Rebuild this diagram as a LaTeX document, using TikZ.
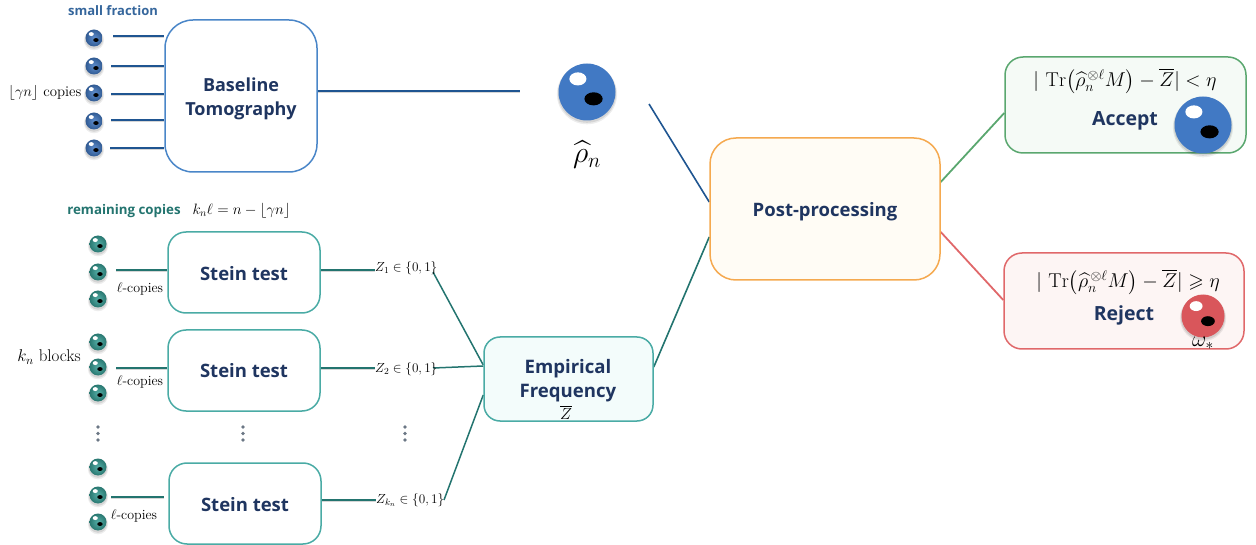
\documentclass[tikz,border=0pt]{standalone}
\usepackage{fix-cm}
\usepackage{amsmath,amssymb}
\usepackage{fontspec}
\newfontfamily\labelfont{Open Sans}
\usetikzlibrary{backgrounds}
\definecolor{navy}{HTML}{1F3560}
\definecolor{bluewire}{HTML}{1F5591}
\definecolor{bluebox}{HTML}{4A86C8}
\definecolor{ballblue}{HTML}{4179C4}
\definecolor{tealwire}{HTML}{23746F}
\definecolor{tealbox}{HTML}{4AABA5}
\definecolor{ballteal}{HTML}{37A097}
\definecolor{ballred}{HTML}{D9565B}
\definecolor{orangebox}{HTML}{F5A94F}
\definecolor{greenbox}{HTML}{5AA76F}
\definecolor{redbox}{HTML}{E0686A}
\definecolor{dotgray}{HTML}{6B7785}
\definecolor{empfill}{HTML}{F3FCFB}
\definecolor{postfill}{HTML}{FFFCF5}
\definecolor{accfill}{HTML}{F5FAF6}
\definecolor{rejfill}{HTML}{FDF5F4}
\newcommand{\szz}[1]{\fontsize{#1}{#1}\selectfont}
\newcommand{\opTr}{\operatorname{Tr}}
% name, x, y, radius, shading options
\newcommand{\qball}[5]{%
  \fill[black,opacity=.07] (#2,#3+2.2) circle[radius=#4+1.6];
  \fill[black,opacity=.10] (#2,#3+1.6) circle[radius=#4+.7];
  \node[circle,inner sep=0pt,minimum size=2*#4 pt,#5] (#1) at (#2,#3) {};
  \fill[white] (#2-.32*#4,#3-.46*#4) ellipse[x radius=.30*#4,y radius=.23*#4];
  \fill[black] (#2+.23*#4,#3+.24*#4) ellipse[x radius=.32*#4,y radius=.23*#4];
}
\tikzset{
  bigbox/.style={draw=#1,line width=1.5pt,rounded corners=28pt,inner sep=0pt,fill=white},
  steinbox/.style={draw=tealbox,line width=1.5pt,rounded corners=18pt,inner sep=0pt,fill=white,
    minimum width=152pt,minimum height=81pt},
  boxtitle/.style={font=\labelfont\bfseries\szz{#1},text=navy,align=center,inner sep=0pt},
  wire/.style={line width=#1,preaction={draw=black,opacity=.16,line width=#1,transform canvas={yshift=-1.1pt}}},
  bwire/.style={draw=bluewire,wire=2pt},
  twire/.style={draw=tealwire,wire=2pt},
  mathlabel/.style={inner sep=0pt,font=\szz{#1}},
  vdotdot/.style={circle,fill=dotgray,inner sep=0pt,minimum size=3.8pt},
  sm/.style={inner color=#1!85!white,outer color=#1!75!black},
  plainball/.style={fill=#1}
}
\begin{document}
\begin{tikzpicture}[x=1pt,y=-1pt]
\useasboundingbox (0,0) rectangle (1256,545);

% main boxes
\node[bigbox=bluebox,minimum width=152pt,minimum height=152pt] (base) at (241,96) {};
\node[steinbox] (s1) at (244,272.5) {};
\node[steinbox] (s2) at (244,370.5) {};
\node[steinbox] (s3) at (245,503.5) {};
\node[draw=tealbox,line width=1.5pt,rounded corners=16pt,fill=empfill,minimum width=169pt,minimum height=84pt,inner sep=0pt] (emp) at (568.5,379) {};
\node[draw=orangebox,line width=1.5pt,rounded corners=26pt,fill=postfill,minimum width=230pt,minimum height=142pt,inner sep=0pt] (post) at (825,209) {};
\node[draw=greenbox,line width=1.5pt,rounded corners=18pt,fill=accfill,minimum width=241pt,minimum height=96pt,inner sep=0pt] (acc) at (1125.5,105) {};
\node[draw=redbox,line width=1.5pt,rounded corners=18pt,fill=rejfill,minimum width=240pt,minimum height=96pt,inner sep=0pt] (rej) at (1124,301) {};

% box titles
\node[boxtitle=18] (tbase) at (241,99) {Baseline\\[6pt]Tomography};
\node[boxtitle=18.5] (ts1) at (244,274) {Stein test};
\node[boxtitle=18.5] (ts2) at (244,371) {Stein test};
\node[boxtitle=18.5] (ts3) at (245,505) {Stein test};
\node[boxtitle=18.6] (temp) at (568,380.5) {Empirical\\[5pt]Frequency};
\node[boxtitle=18.5] (tpost) at (825,212) {Post-processing};
\node[boxtitle=19.5] (tacc) at (1125,121) {Accept};
\node[boxtitle=19.5] (trej) at (1124,315) {Reject};

% header text
\node[font=\labelfont\bfseries\szz{13},text=bluewire!90!white,inner sep=0pt] (hsmall) at (113,11) {small fraction};
\node[font=\labelfont\bfseries\szz{13.3},text=tealwire,inner sep=0pt] (hrem) at (124,211.5) {remaining copies};
\node[mathlabel=15] (hform) at (241.5,210.5) {$k_n\ell = n-\lfloor\gamma n\rfloor$};
\node[mathlabel=14.8,anchor=east] (lcop) at (81.5,93) {$\lfloor\gamma n\rfloor$ copies};
\node[mathlabel=17,anchor=east] (lblk) at (81,357) {$k_n$ blocks};
\node[mathlabel=14] (l1) at (140,289) {$\ell$-copies};
\node[mathlabel=14] (l2) at (140,382) {$\ell$-copies};
\node[mathlabel=14] (l3) at (134,516) {$\ell$-copies};
\node[mathlabel=13.2,anchor=west] (z1) at (375,268) {$Z_1\in\{0,1\}$};
\node[mathlabel=13.2,anchor=west] (z2) at (375,369) {$Z_2\in\{0,1\}$};
\node[mathlabel=13.2,anchor=west] (z3) at (376,500) {$Z_{k_n}\in\{0,1\}$};
\node[mathlabel=16] (zbar) at (566,412) {$\overline{Z}$};
\node[mathlabel=30] (rho) at (587,155) {$\widehat{\rho}_n$};
\node[mathlabel=20] (facc) at (1125,81) {$|\,\opTr\bigl(\widehat{\rho}_n^{\,\otimes\ell}M\bigr)-\overline{Z}|<\eta$};
\node[mathlabel=20] (frej) at (1128,282) {$|\,\opTr\bigl(\widehat{\rho}_n^{\,\otimes\ell}M\bigr)-\overline{Z}|\geqslant\eta$};

% small balls
\foreach \n/\y in {1/38,2/66,3/93,4/121,5/148}{\qball{b\n}{94}{\y}{8.5}{sm=ballblue}}
\foreach \n/\y in {1/244,2/272,3/299,4/342,5/367,6/393,7/467,8/495,9/522}{\qball{t\n}{98}{\y}{8.5}{sm=ballteal}}

% large balls
\qball{brho}{587}{92}{28.5}{plainball=ballblue}
\qball{bacc}{1203}{125}{28.5}{plainball=ballblue}
\qball{brej}{1203}{316}{21.5}{plainball=ballred}
\node[mathlabel=22] (om) at (1203,343) {$\omega_*$};

% vertical dots
\foreach \n/\x in {a/98,b/243,c/405}{
  \node[vdotdot] (d\n1) at (\x,427) {};
  \node[vdotdot] (d\n2) at (\x,433.5) {};
  \node[vdotdot] (d\n3) at (\x,440) {};
}

% free ends
\coordinate (w1) at (113,36);
\coordinate (w2) at (111,66);
\coordinate (w3) at (111,94);
\coordinate (w4) at (111,120);
\coordinate (w5) at (110,148);
\coordinate (rhoin) at (520,91);
\coordinate (rhoout) at (649,104);
\coordinate (v1) at (116,270);
\coordinate (v2) at (116,368);
\coordinate (v3) at (111,497);
\coordinate (v3e) at (164,497);
\coordinate (zl1) at (433,272);
\coordinate (zl2) at (433,368);
\coordinate (zl3) at (444,500);

\begin{scope}[on background layer]
  \foreach \i in {1,...,5}{\draw[bwire] (w\i) -- (base.west |- w\i);}
  \draw[bwire] (base.east |- rhoin) -- (rhoin);
  \draw[draw=bluewire,line width=1.6pt] (rhoout) -- (post.west |- 0,202);
  \draw[twire] (v1) -- (s1.west |- v1);
  \draw[twire] (v2) -- (s2.west |- v2);
  \draw[twire] (v3) -- (v3e);
  \draw[twire] (s1.east |- v1) -- (z1.west |- v1);
  \draw[twire] (s2.east |- v2) -- (z2.west |- v2);
  \draw[twire] (s3.east |- 0,500) -- (z3.west);
  \draw[draw=tealwire,line width=1.5pt] (zl1) -- (emp.west |- 0,365);
  \draw[draw=tealwire,line width=1.5pt] (zl2) -- (emp.west |- 0,366);
  \draw[draw=tealwire,line width=1.5pt] (zl3) -- (emp.west |- 0,395);
  \draw[draw=tealwire,line width=1.6pt] (emp.east |- 0,367) -- (post.west |- 0,237);
  \draw[draw=greenbox,line width=1.8pt] (post.east |- 0,182) -- (acc.west |- 0,113);
  \draw[draw=redbox,line width=1.8pt] (post.east |- 0,232) -- (rej.west |- 0,300);
\end{scope}
\end{tikzpicture}
\end{document}
